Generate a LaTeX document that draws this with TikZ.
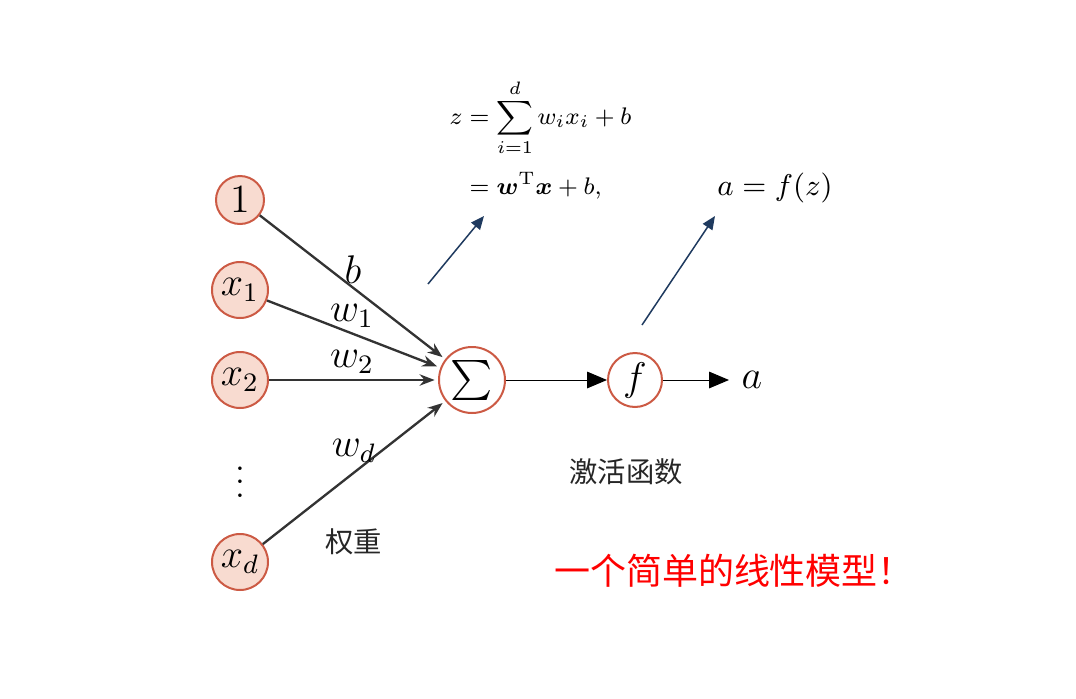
\documentclass[tikz,border=0pt]{standalone}
\usepackage{amsmath}
\usepackage{bm}
\usepackage{graphicx}
\usepackage{fontspec}
\newfontfamily\cjk{Noto Sans CJK SC}
\usetikzlibrary{arrows.meta}
\definecolor{nodefill}{HTML}{F8DBD0}
\definecolor{noderim}{HTML}{CC5A44}
\definecolor{edgegray}{HTML}{333333}
\definecolor{navy}{HTML}{1F3A5F}
\tikzset{
  innode/.style={circle, draw=noderim, fill=nodefill, line width=0.6pt, inner sep=0pt, minimum size=16.8pt, font=\large},
  onenode/.style={innode, minimum size=14.4pt},
  sumnode/.style={circle, draw=noderim, fill=white, line width=0.6pt, inner sep=0pt, minimum size=19.8pt, font=\large},
  fnode/.style={circle, draw=noderim, fill=white, line width=0.6pt, inner sep=0pt, minimum size=16.2pt, font=\large},
  inedge/.style={draw=edgegray, line width=0.7pt, shorten >=1pt, -{Stealth[length=4.5pt,width=3.4pt]}},
  mainedge/.style={draw=black, line width=0.3pt, -{Triangle[length=6pt,width=5pt]}},
  pointer/.style={draw=navy, line width=0.45pt, -{Triangle[length=4pt,width=3.4pt]}},
  lbl/.style={inner sep=0pt, font=\large},
  cjklbl/.style={inner sep=0pt, font=\cjk\fontsize{8.5}{10}\selectfont, text=black!85},
}
\begin{document}
\begin{tikzpicture}[x=0.3pt, y=-0.3pt]
\useasboundingbox (0,0) rectangle (1076,699);
% nodes
\node[onenode] (one) at (240,200) {$1$};
\node[innode] (x1) at (240,290) {$x_1$};
\node[innode] (x2) at (240,380) {$x_2$};
\node[innode] (xd) at (240,562) {$x_d$};
\node[inner sep=0pt] (dots) at (240,472) {$\vdots$};
\node[sumnode] (sum) at (472,380) {$\sum$};
\node[fnode] (f) at (635,380) {$f$};
\node[lbl, anchor=west] (a) at (741,380) {$a$};
% input edges
\draw[inedge] (one) -- (sum);
\draw[inedge] (x1) -- (sum);
\draw[inedge] (x2) -- (sum);
\draw[inedge] (xd) -- (sum);
% main chain
\draw[mainedge] (sum) -- (f);
\draw[mainedge, shorten >=3.6pt] (f) -- (a);
% weight labels
\node[lbl] (lb) at (353,270) {$b$};
\node[lbl] (lw1) at (352,316) {$w_1$};
\node[lbl] (lw2) at (352,362) {$w_2$};
\node[lbl] (lwd) at (354,451) {$w_d$};
% chinese labels
\node[cjklbl] (qz) at (354,542) {权重};
\node[cjklbl] (jh) at (626,472) {激活函数};
\node[inner sep=0pt, font=\cjk\fontsize{10.8}{12}\selectfont, text=red] (title) at (734,571) {一个简单的线性模型！};
% formulas
\node[inner sep=0pt, anchor=north west, font=\footnotesize] (eq) at (449,78) {\scalebox{0.9}{$\begin{aligned} z &= \sum_{i=1}^{d} w_i x_i + b\\[1.2pt] &= \bm{w}^{\mathrm{T}}\bm{x} + b, \end{aligned}$}};
\node[lbl, font=\small] (af) at (775,188) {$a = f(z)$};
% pointers
\coordinate (p1s) at (428,284);
\coordinate (p1e) at (484,216);
\coordinate (p2s) at (642,325);
\coordinate (p2e) at (715,216);
\draw[pointer] (p1s) -- (p1e);
\draw[pointer] (p2s) -- (p2e);
\end{tikzpicture}
\end{document}
